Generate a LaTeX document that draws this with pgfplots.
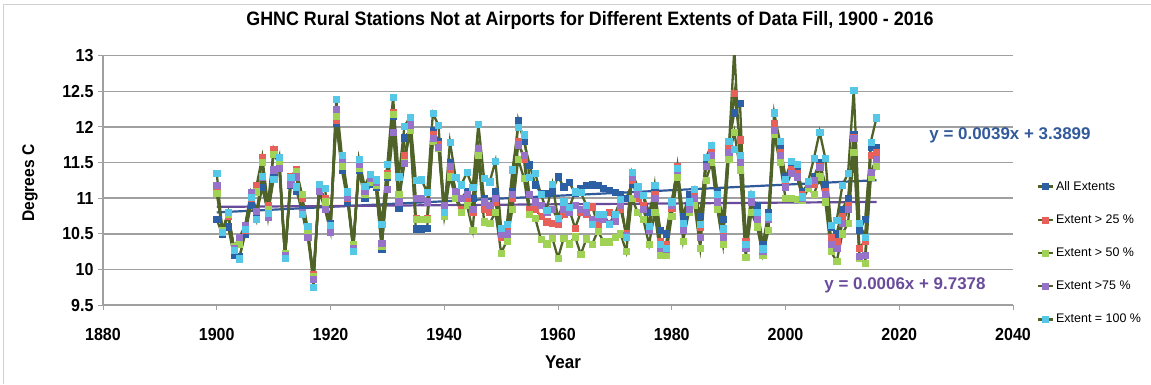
\documentclass[border=0pt]{standalone}
\usepackage{fontspec}
\setmainfont{Liberation Sans}
\newfontfamily\boldnarrow[FakeStretch=0.92]{Liberation Sans Bold}
\newfontfamily\boldfont{Liberation Sans Bold}
\usepackage{pgfplots}
\pgfplotsset{compat=1.18}
\usepackage{pgfplotstable}
\definecolor{olivel}{RGB}{79,98,40}
\definecolor{mblue}{RGB}{45,95,165}
\definecolor{mred}{RGB}{232,96,90}
\definecolor{mgreen}{RGB}{160,210,85}
\definecolor{mpurple}{RGB}{150,115,200}
\definecolor{mcyan}{RGB}{85,200,232}
\definecolor{tblue}{RGB}{50,90,155}
\definecolor{tpurple}{RGB}{105,75,155}
\definecolor{gridg}{RGB}{160,160,160}

\pgfplotstableread{
year all e25 e50 e75 e100
1900 10.70 11.10 11.07 11.18 11.35
1901 10.49 10.55 10.55 10.52 10.52
1902 10.60 10.75 10.78 10.80 10.80
1903 10.20 10.30 10.32 10.30 10.27
1904 10.18 10.40 10.35 10.45 10.15
1905 10.50 10.55 10.60 10.62 10.56
1906 10.90 11.00 11.05 11.08 11.01
1907 10.78 11.18 11.09 10.82 10.70
1908 11.15 11.58 11.51 11.30 11.31
1909 10.80 10.90 10.85 10.73 10.79
1910 11.30 11.69 11.62 11.40 11.27
1911 11.45 11.50 11.48 11.42 11.58
1912 10.18 10.20 10.22 10.20 10.16
1913 11.18 11.30 11.25 11.20 11.29
1914 11.10 11.40 11.38 11.30 11.16
1915 10.85 11.00 11.05 10.80 10.78
1916 10.55 10.50 10.55 10.45 10.61
1917 9.90 9.93 9.90 9.86 9.75
1918 11.10 11.15 11.12 11.10 11.20
1919 10.90 11.00 10.95 10.85 11.14
1920 10.65 10.60 10.60 10.53 10.62
1921 12.05 12.10 12.15 12.25 12.39
1922 11.40 11.50 11.45 11.55 11.60
1923 10.95 11.00 11.05 11.02 11.09
1924 10.30 10.35 10.35 10.30 10.25
1925 11.40 11.45 11.42 11.48 11.55
1926 11.00 11.10 11.05 11.10 11.17
1927 11.20 11.25 11.22 11.28 11.34
1928 11.15 11.20 11.18 11.22 11.26
1929 10.29 10.35 10.33 10.37 10.64
1930 11.30 11.35 11.32 11.13 11.48
1931 12.15 12.20 12.18 11.93 12.42
1932 10.86 11.00 11.05 10.95 11.30
1933 11.85 11.60 11.50 11.49 12.01
1934 11.95 12.00 11.95 12.03 12.14
1935 10.57 10.72 10.70 11.00 11.25
1936 10.57 10.70 10.70 11.00 11.26
1937 10.58 10.72 10.70 10.95 11.08
1938 11.95 11.90 11.80 11.84 12.19
1939 11.80 11.75 11.70 11.72 12.02
1940 10.85 10.80 10.75 10.90 10.80
1941 11.50 11.40 11.30 11.45 11.79
1942 11.10 11.05 11.00 11.10 11.29
1943 11.00 10.85 10.80 11.00 11.19
1944 11.10 10.95 10.90 11.05 11.36
1945 11.00 10.80 10.55 10.85 11.15
1946 11.70 11.65 11.60 11.70 12.04
1947 11.00 10.85 10.67 10.95 11.28
1948 10.90 10.80 10.65 10.90 11.23
1949 11.10 10.95 10.80 11.00 11.52
1950 10.45 10.45 10.23 10.50 10.58
1951 10.40 10.55 10.40 10.50 10.63
1952 11.10 11.00 10.85 11.05 11.40
1953 12.10 11.80 11.55 11.75 12.00
1954 11.80 11.55 11.28 11.60 11.89
1955 11.47 10.85 10.77 11.05 11.29
1956 11.19 10.84 10.72 10.95 11.35
1957 11.07 10.75 10.42 10.90 11.05
1958 11.07 10.67 10.36 10.80 10.83
1959 11.10 10.65 10.44 10.85 11.20
1960 11.30 10.63 10.16 10.70 10.72
1961 11.16 10.77 10.44 10.85 10.95
1962 11.22 10.84 10.36 10.80 10.87
1963 11.07 10.58 10.46 10.90 11.09
1964 11.14 10.80 10.21 10.85 11.08
1965 11.18 10.77 10.43 10.80 10.90
1966 11.19 10.88 10.35 10.70 10.63
1967 11.18 10.63 10.54 10.72 10.78
1968 11.14 10.72 10.39 10.70 10.77
1969 11.11 10.80 10.39 10.65 10.64
1970 11.08 10.70 10.45 10.68 10.77
1971 11.05 10.85 10.50 10.90 10.98
1972 11.00 10.50 10.25 10.48 10.45
1973 11.20 11.25 11.00 11.30 11.36
1974 11.10 11.00 10.80 11.05 11.16
1975 11.05 10.90 10.70 10.85 11.04
1976 10.80 10.60 10.35 10.55 10.61
1977 11.10 11.05 10.80 11.00 11.18
1978 10.55 10.40 10.20 10.30 10.35
1979 10.50 10.35 10.20 10.28 10.30
1980 10.95 10.86 10.75 10.90 10.95
1981 11.40 11.45 11.30 11.40 11.42
1982 10.75 10.60 10.40 10.55 10.65
1983 11.05 10.95 10.80 10.85 10.95
1984 11.10 11.05 10.90 11.00 11.13
1985 10.75 10.60 10.30 10.45 10.64
1986 11.50 11.45 11.25 11.45 11.57
1987 11.70 11.65 11.50 11.60 11.74
1988 11.10 11.00 10.85 10.95 11.05
1989 10.70 10.50 10.35 10.45 10.57
1990 11.75 11.70 11.55 11.65 11.80
1991 12.20 12.47 11.93 13.10 11.69
1992 12.33 11.82 11.40 11.50 11.60
1993 10.40 10.40 10.17 10.30 10.35
1994 11.00 10.95 10.80 10.95 11.05
1995 10.90 10.80 10.60 10.70 10.80
1996 10.35 10.30 10.20 10.25 10.29
1997 10.80 10.75 10.55 10.70 10.74
1998 12.00 12.05 11.90 11.95 12.20
1999 11.70 11.65 11.50 11.60 11.80
2000 11.30 11.20 11.00 11.15 11.27
2001 11.45 11.40 11.00 11.35 11.52
2002 11.40 11.35 10.98 11.30 11.48
2003 11.10 11.05 10.97 11.00 11.02
2004 11.20 11.15 11.14 11.20 11.24
2005 11.30 11.20 11.05 11.25 11.56
2006 11.50 11.45 11.30 11.44 11.93
2007 11.20 11.10 10.95 11.05 11.56
2008 10.60 10.45 10.25 10.35 10.62
2009 10.50 10.40 10.11 10.30 10.69
2010 10.85 10.75 10.50 10.65 11.18
2011 11.00 10.90 10.65 10.85 11.35
2012 11.90 11.85 11.65 11.84 12.52
2013 10.55 10.30 10.16 10.18 10.65
2014 10.70 10.40 10.09 10.20 10.45
2015 11.72 11.60 11.30 11.37 11.79
2016 11.72 11.65 11.45 11.55 12.13
}\data

\begin{document}
\begin{tikzpicture}[x=1bp,y=1bp]
\useasboundingbox (0,0) rectangle (1151,384);
\draw[gray!35, line width=1bp] (3,0) -- (3,379) -- (1151,379);
\node[font=\boldnarrow\fontsize{19.5}{19.5}\selectfont] at (590,364) {GHNC Rural Stations Not at Airports for Different Extents of Data Fill, 1900 - 2016};
\begin{axis}[
  at={(103bp,79bp)}, anchor=south west, scale only axis,
  width=910bp, height=249.3bp,
  xmin=1880, xmax=2040, ymin=9.5, ymax=13,
  xtick={1880,1900,1920,1940,1960,1980,2000,2020,2040},
  ytick={9.5,10,10.5,11,11.5,12,12.5,13},
  axis x line*=bottom, axis y line*=left,
  axis line style={gridg, line width=1.2bp},
  tick align=outside, major tick length=5bp,
  tick style={gridg, line width=1bp},
  ymajorgrids, grid style={gridg, line width=1.6bp},
  /pgf/number format/1000 sep={},
  /pgf/number format/assume math mode=true,
  ticklabel style={font=\boldnarrow\fontsize{17.5}{17.5}\selectfont},
  xticklabel style={yshift=-15bp},
  yticklabel style={xshift=-1bp},
  legend style={at={(1.026,0.505)}, anchor=north west, draw=none, fill=none,
    font=\fontsize{12.5}{12.5}\selectfont, row sep=19bp, inner sep=0pt},
  legend cell align=left,
  legend image code/.code={\draw[mark repeat=2,mark phase=2] plot coordinates {(0bp,0bp) (7.5bp,0bp) (15bp,0bp)};},
]
\addplot[tblue, line width=2.2bp, forget plot] coordinates {(1900,10.7999) (2016,11.2523)};
\addplot[tpurple, line width=2.2bp, forget plot] coordinates {(1900,10.8778) (2016,10.9474)};
\addplot[olivel, line width=2.3bp, mark=square*, mark size=3.1bp, mark options={draw=mblue, fill=mblue, line width=0.4bp}] table[x=year, y=all] {\data};
\addplot[olivel, line width=2.3bp, mark=square*, mark size=3.1bp, mark options={draw=mred, fill=mred, line width=0.4bp}] table[x=year, y=e25] {\data};
\addplot[olivel, line width=2.3bp, mark=square*, mark size=3.1bp, mark options={draw=mgreen, fill=mgreen, line width=0.4bp}] table[x=year, y=e50] {\data};
\addplot[olivel, line width=2.3bp, mark=square*, mark size=3.1bp, mark options={draw=mpurple, fill=mpurple, line width=0.4bp}] table[x=year, y=e75] {\data};
\addplot[olivel, line width=2.3bp, mark=square*, mark size=3.1bp, mark options={draw=mcyan, fill=mcyan, line width=0.4bp}] table[x=year, y=e100] {\data};
\legend{All Extents, Extent > 25 \%, Extent > 50 \%, Extent >75 \%, Extent = 100 \%}
\end{axis}
\node[font=\boldnarrow\fontsize{17}{17}\selectfont, rotate=90] at (30,201) {Degrees C};
\node[font=\boldnarrow\fontsize{18.5}{18.5}\selectfont] at (563,22) {Year};
\node[font=\boldfont\fontsize{17}{17}\selectfont, text=tblue] at (1010,249) {y = 0.0039x + 3.3899};
\node[font=\boldfont\fontsize{17}{17}\selectfont, text=tpurple] at (905,99) {y = 0.0006x + 9.7378};
\end{tikzpicture}
\end{document}
